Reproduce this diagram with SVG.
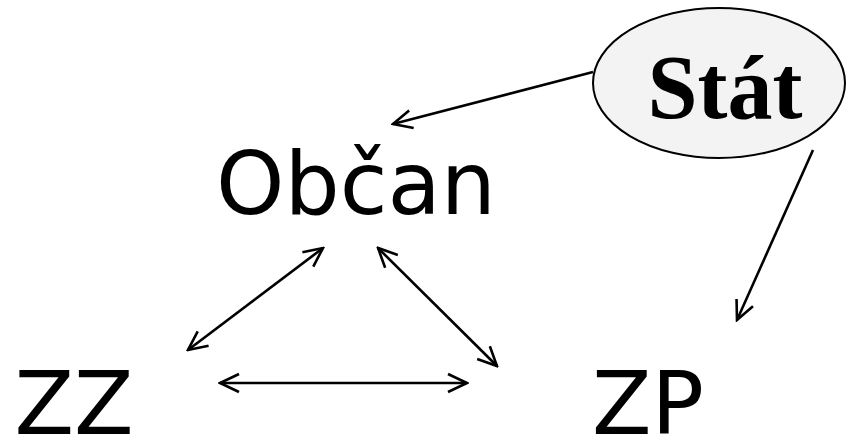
<svg xmlns="http://www.w3.org/2000/svg" width="846" height="437" viewBox="0 0 846 437">
  <style>
    .lbl { font-family: "DejaVu Sans", Verdana, sans-serif; font-size: 87px; fill: #000; }
    .stat { font-family: "Liberation Serif", "Times New Roman", serif; font-weight: bold; font-size: 90px; fill: #000; }
    .con { stroke: #000; stroke-width: 2.6; fill: none; marker-end: url(#ah); }
    .bi { marker-start: url(#ahs); }
  </style>
  <defs>
    <marker id="ah" viewBox="0 0 22 22" refX="20" refY="11" markerWidth="22" markerHeight="22" markerUnits="userSpaceOnUse" orient="auto">
      <path d="M1,2 L20,11 L1,20" fill="none" stroke="#000" stroke-width="2.6" stroke-linejoin="miter"/>
    </marker>
    <marker id="ahs" viewBox="0 0 22 22" refX="20" refY="11" markerWidth="22" markerHeight="22" markerUnits="userSpaceOnUse" orient="auto-start-reverse">
      <path d="M1,2 L20,11 L1,20" fill="none" stroke="#000" stroke-width="2.6" stroke-linejoin="miter"/>
    </marker>
  </defs>
  <rect width="846" height="437" fill="#fff"/>

  <g id="connectors">
    <line class="con" x1="593" y1="72" x2="393" y2="124"/>
    <line class="con" x1="813" y1="150" x2="737" y2="320"/>
    <line class="con bi" x1="323" y1="248" x2="188" y2="350"/>
    <line class="con bi" x1="378" y1="248" x2="497" y2="366"/>
    <line class="con bi" x1="220" y1="383" x2="467" y2="383"/>
  </g>

  <g id="stat">
    <ellipse cx="719" cy="83" rx="126" ry="75" fill="#f3f3f3" stroke="#000" stroke-width="2"/>
    <text class="stat" x="725" y="118" text-anchor="middle">Stát</text>
  </g>
  <g id="obcan">
    <text class="lbl" x="356" y="214" text-anchor="middle">Občan</text>
  </g>
  <g id="zz">
    <text class="lbl" x="74" y="434" text-anchor="middle">ZZ</text>
  </g>
  <g id="zp">
    <text class="lbl" x="648" y="434" text-anchor="middle">ZP</text>
  </g>
</svg>
